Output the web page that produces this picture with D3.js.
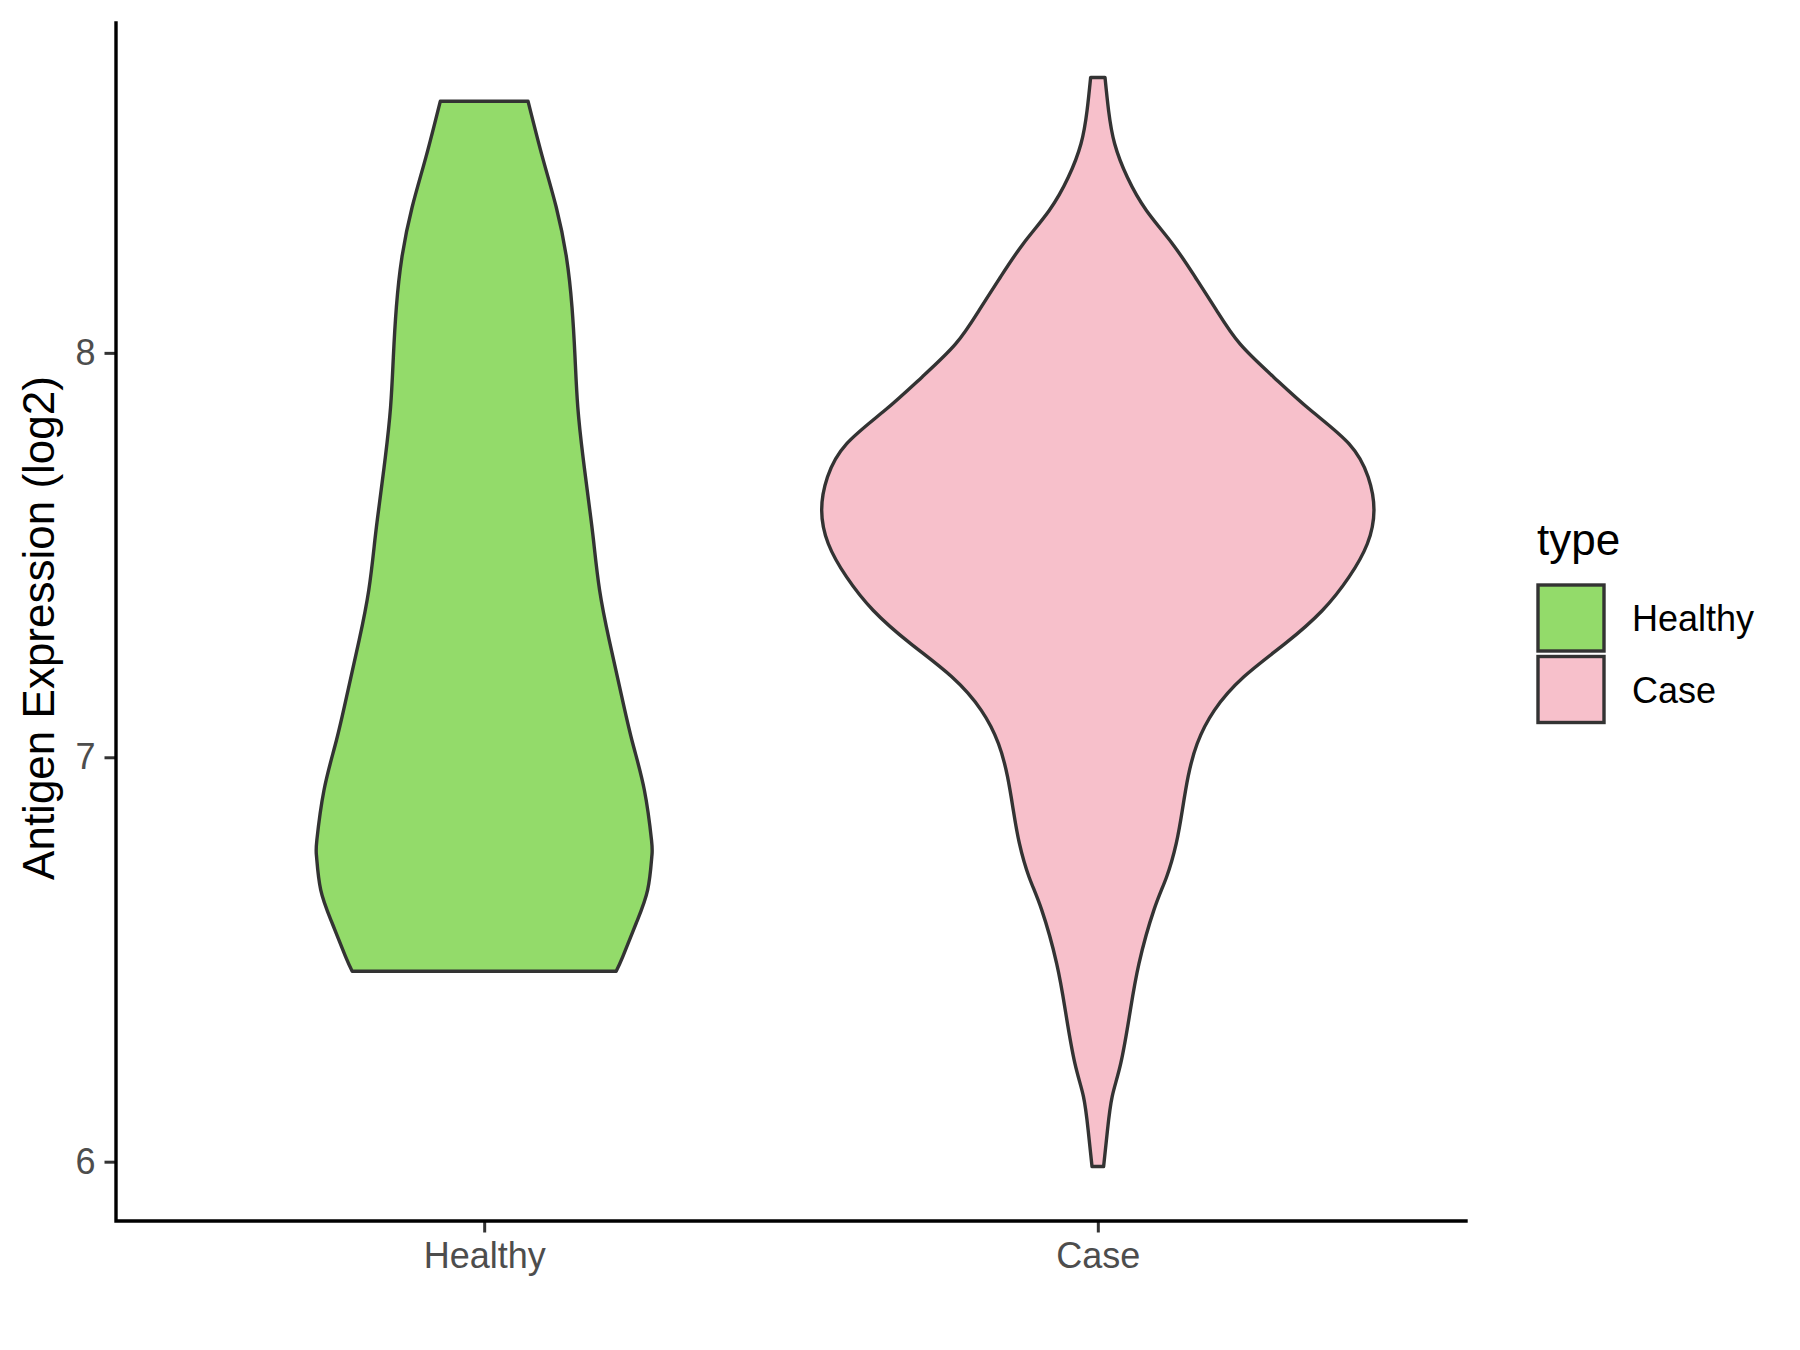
<!DOCTYPE html>
<html>
<head>
<meta charset="utf-8">
<script src="https://cdn.jsdelivr.net/npm/d3@7"></script>
<style>
    body { margin: 0; background: #fff; }
    text { font-family: "Liberation Sans", Arial, sans-serif; }
</style>
</head>
<body>
<div id="chart"></div>
<script>
const categories = ["Healthy", "Case"];
const fillColors = ["#93DB6A", "#F7C0CB"];
const yTicks = [6, 7, 8];
const yTitle = "Antigen Expression (log2)";
const legendTitle = "type";

// violin outlines: expression value and relative width (1 = widest)
const healthyValue = [8.622, 8.484, 8.360, 8.236, 8.113, 7.989, 7.866, 7.742, 7.619, 7.536, 7.413,
    7.289, 7.166, 7.042, 6.919, 6.795, 6.754, 6.672, 6.589, 6.507, 6.471];
const healthyWidth = [0.159, 0.211, 0.261, 0.298, 0.318, 0.329, 0.339, 0.358, 0.381, 0.396, 0.418,
    0.453, 0.493, 0.535, 0.580, 0.606, 0.607, 0.592, 0.550, 0.502, 0.478];

const caseValue = [8.681, 8.599, 8.517, 8.434, 8.352, 8.270, 8.187, 8.105, 8.022, 7.940, 7.858,
    7.775, 7.693, 7.611, 7.528, 7.446, 7.363, 7.281, 7.199, 7.116, 7.034, 6.952, 6.869, 6.787,
    6.704, 6.622, 6.490, 6.367, 6.243, 6.161, 6.078, 5.988];
const caseWidth = [0.026, 0.039, 0.061, 0.107, 0.176, 0.270, 0.353, 0.430, 0.515, 0.637, 0.771,
    0.910, 0.979, 1.000, 0.976, 0.910, 0.813, 0.678, 0.529, 0.422, 0.360, 0.327, 0.306, 0.284,
    0.249, 0.203, 0.149, 0.116, 0.083, 0.052, 0.035, 0.021];

class ViolinChart {
    constructor() {
        this._id = "#chart";
        this._width = 1800;
        this._height = 1350;
        this._margins = {top: 23, left: 116, right: 334, bottom: 129};
        this._svg = null;
        this._body = null;
    }

    getBodyWidth() {
        return this._width - this._margins.left - this._margins.right;
    }

    getBodyHeight() {
        return this._height - this._margins.top - this._margins.bottom;
    }

    renderChart() {
        this._svg = d3.select(this._id).append("svg")
            .attr("width", this._width)
            .attr("height", this._height);
        this._body = this._svg.append("g")
            .attr("transform", "translate(" + this._margins.left + "," + this._margins.top + ")");

        const series = [
            healthyValue.map((v, i) => ({v: v, w: healthyWidth[i]})),
            caseValue.map((v, i) => ({v: v, w: caseWidth[i]}))
        ];

        // ggplot style: 5% expansion on y, 0.6 units on the discrete x
        const all = healthyValue.concat(caseValue);
        const lo = d3.min(all), hi = d3.max(all), pad = (hi - lo) * 0.05;
        this._scaleY = d3.scaleLinear()
            .domain([lo - pad, hi + pad])
            .range([this.getBodyHeight(), 0]);
        this._scaleX = d3.scalePoint()
            .domain(categories)
            .range([0, this.getBodyWidth()])
            .padding(0.6);
        const halfWidth = d3.scaleLinear()
            .domain([0, 1])
            .range([0, this._scaleX.step() * 0.45]);

        this.renderViolins(series, halfWidth);
        this.renderAxes();
        this.renderLegend();
    }

    renderViolins(series, halfWidth) {
        const y = this._scaleY, x = this._scaleX;
        series.forEach((pts, i) => {
            const cx = x(categories[i]);
            const area = d3.area()
                .y(d => y(d.v))
                .x0(d => cx - halfWidth(d.w))
                .x1(d => cx + halfWidth(d.w))
                .curve(d3.curveNatural);
            this._body.append("path")
                .datum(pts)
                .attr("d", area)
                .attr("fill", fillColors[i])
                .attr("stroke", "#333333")
                .attr("stroke-width", 3.4)
                .attr("stroke-linejoin", "round");
        });
    }

    renderAxes() {
        const h = this.getBodyHeight();
        const yAxis = this._body.append("g")
            .call(d3.axisLeft(this._scaleY).tickValues(yTicks).tickFormat(d3.format("d"))
                .tickSize(11.5).tickPadding(9));
        const xAxis = this._body.append("g")
            .attr("transform", "translate(0," + h + ")")
            .call(d3.axisBottom(this._scaleX).tickSize(11.5).tickPadding(10));

        [yAxis, xAxis].forEach(g => {
            g.select(".domain").remove();
            g.selectAll(".tick line").attr("stroke", "#333333").attr("stroke-width", 3);
            g.selectAll(".tick text")
                .attr("fill", "#4D4D4D")
                .style("font-size", "36px")
                .style("font-family", "'Liberation Sans', Arial, sans-serif");
        });

        // axis lines drawn over the ticks, like theme_classic
        this._body.append("path")
            .attr("d", "M0,0V" + h + "H" + this.getBodyWidth())
            .attr("fill", "none")
            .attr("stroke", "#000")
            .attr("stroke-width", 3.4)
            .attr("stroke-linecap", "square");

        this._svg.append("text")
            .attr("transform", "translate(54," + (this._margins.top + h / 2 + 6) + ") rotate(-90)")
            .attr("text-anchor", "middle")
            .style("font-size", "44px")
            .attr("fill", "#000")
            .text(yTitle);
    }

    renderLegend() {
        const lx = 1538, ly = 585, key = 71.5;
        const legend = this._svg.append("g").attr("transform", "translate(" + lx + "," + ly + ")");
        legend.append("text")
            .attr("x", -1)
            .attr("y", -30)
            .style("font-size", "44px")
            .attr("fill", "#000")
            .text(legendTitle);
        const items = legend.selectAll("g.item").data(categories).enter()
            .append("g")
            .attr("class", "item")
            .attr("transform", (d, i) => "translate(0," + i * key + ")");
        items.append("rect")
            .attr("width", 66)
            .attr("height", 66)
            .attr("fill", (d, i) => fillColors[i])
            .attr("stroke", "#333333")
            .attr("stroke-width", 3.4);
        items.append("text")
            .attr("x", 94)
            .attr("y", 46)
            .style("font-size", "36px")
            .attr("fill", "#000")
            .text(d => d);
    }
}

new ViolinChart().renderChart();
</script>
</body>
</html>
